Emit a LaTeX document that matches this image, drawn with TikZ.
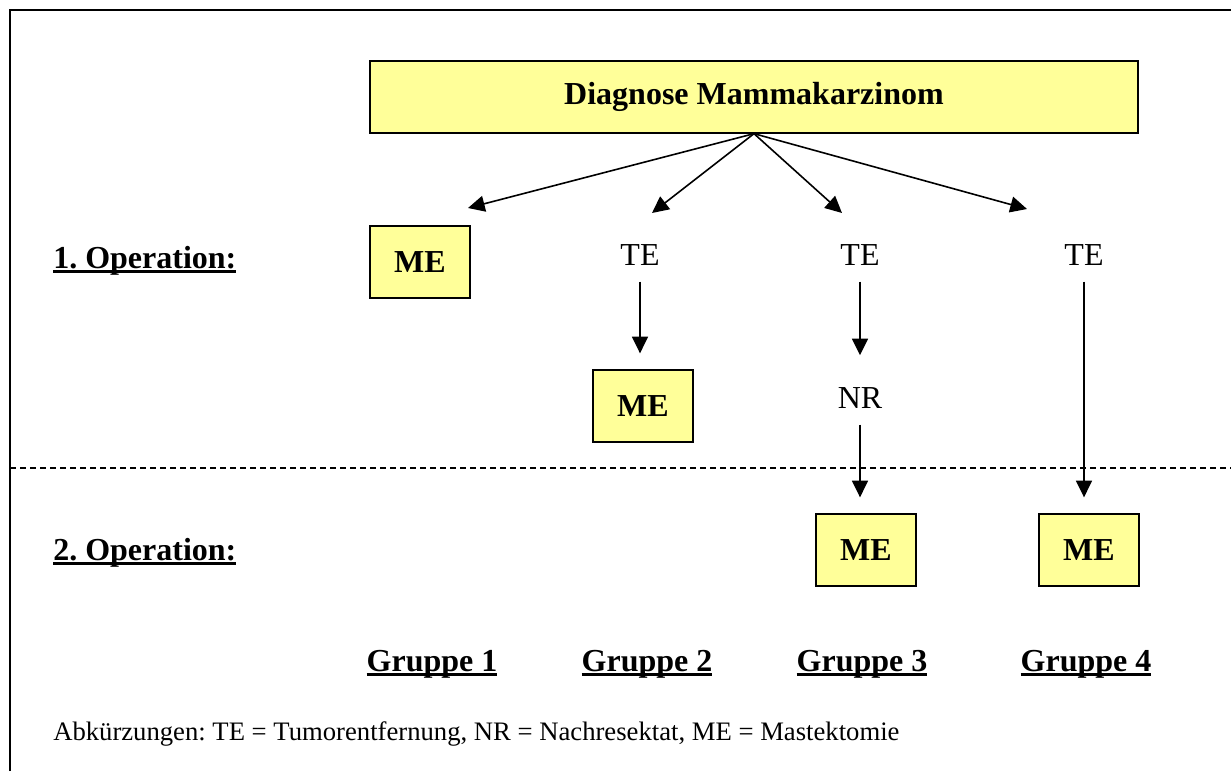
\documentclass[tikz,border=0pt]{standalone}
\usepackage{fontspec}
\setmainfont{Liberation Serif}
\usetikzlibrary{arrows.meta}
\definecolor{paleyellow}{RGB}{255,255,153}
\frenchspacing
\newsavebox\ulbox
\newcommand\ulbf[1]{\sbox\ulbox{\bfseries #1}\rlap{\rule[-3.8pt]{\wd\ulbox}{2.4pt}}\usebox\ulbox}

\begin{document}
\begin{tikzpicture}[x=0.75pt,y=-0.75pt,
		font=\fontsize{24}{28}\selectfont,
		mebox/.style={draw=black,line width=1pt,fill=paleyellow,minimum width=75pt,minimum height=54pt,inner sep=0pt,font=\fontsize{24}{28}\selectfont\bfseries},
		lbl/.style={inner xsep=0pt,inner ysep=12pt},
		arr/.style={-{Triangle[length=12.5pt,width=12pt]},line width=1.2pt},
		flow/.style={arr,shorten >=12pt}]
	\useasboundingbox (0,0) rectangle (1231,771);
	% frame and separator
	\draw[line width=1pt] (10,771) -- (10,10) -- (1231,10);
	\draw[dash pattern=on 4.5pt off 3pt,line width=0.8pt] (10,468) -- (1231,468);
	% diagnosis
	\node[mebox,minimum width=576pt] (diag) at (754,97) {Diagnose Mammakarzinom};
	\coordinate (t1) at (468,208);
	\coordinate (t2) at (652,213);
	\coordinate (t3) at (842,213);
	\coordinate (t4) at (1027,209);
	\foreach \t in {t1,t2,t3,t4}{
			\draw[arr] (diag.south) -- (\t);
		}
	% 1. Operation
	\node[mebox] (me1) at (420,262) {ME};
	\node[lbl] (te2) at (640,255) {TE};
	\node[lbl] (te3) at (860,255) {TE};
	\node[lbl] (te4) at (1084,255) {TE};
	\node[mebox] (me2) at (643,406) {ME};
	\node[lbl] (nr3) at (860,398) {NR};
	% 2. Operation
	\node[mebox] (me3) at (866,550) {ME};
	\node[mebox] (me4) at (1089,550) {ME};
	\draw[flow] (te2.south) -- (te2.south |- me2.north);
	\draw[flow] (te3.south) -- (nr3.north);
	\draw[flow] (nr3.south) -- (nr3.south |- me3.north);
	\draw[flow] (te4.south) -- (te4.south |- me4.north);
	% labels
	\node[anchor=base west,inner sep=0pt] (op1) at (53,268) {\ulbf{1. Operation:}};
	\node[anchor=base west,inner sep=0pt] (op2) at (53,560) {\ulbf{2. Operation:}};
	\foreach \x/\g in {432/1,647/2,862/3,1086/4}{
			\node[anchor=base,inner sep=0pt] (grp\g) at (\x,671) {\ulbf{Gruppe \g}};
		}
	\node[anchor=base west,inner sep=0pt,font=\fontsize{20}{24}\selectfont] (abbr) at (53,740)
		{Abkürzungen: TE = Tumorentfernung, NR = Nachresektat, ME = Mastektomie};
\end{tikzpicture}
\end{document}
